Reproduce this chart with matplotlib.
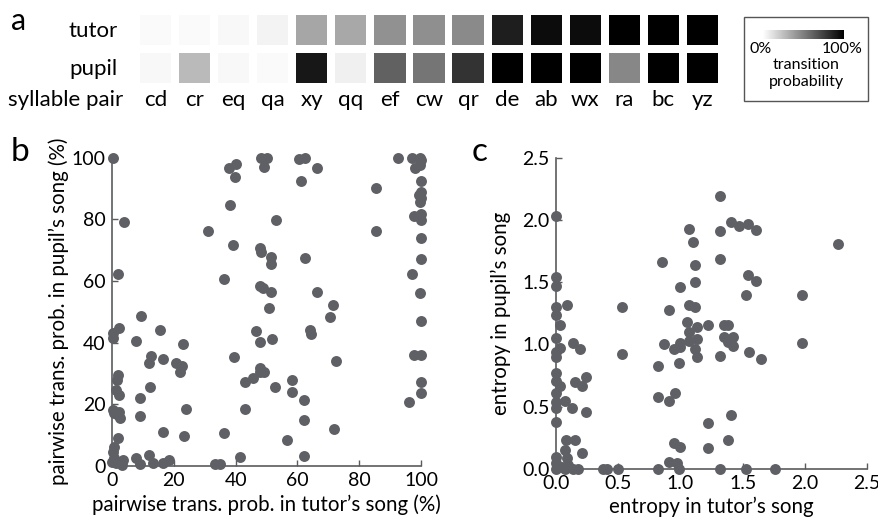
import numpy as np
import matplotlib
matplotlib.use('Agg')
import matplotlib.pyplot as plt
from matplotlib.colors import LinearSegmentedColormap
from matplotlib.patches import Rectangle

plt.rcParams['font.family'] = ['Lato', 'DejaVu Sans']

# ---------------- data ----------------
pairs = ['cd', 'cr', 'eq', 'qa', 'xy', 'qq', 'ef', 'cw', 'qr', 'de', 'ab', 'wx', 'ra', 'bc', 'yz']
tutor_prob = [0.02, 0.02, 0.03, 0.05, 0.35, 0.34, 0.43, 0.44, 0.46, 0.88, 0.95, 0.95, 1.0, 1.0, 1.0]
pupil_prob = [0.03, 0.27, 0.03, 0.02, 0.91, 0.06, 0.62, 0.54, 0.80, 1.0, 1.0, 1.0, 0.47, 1.0, 1.0]
row_labels = ['tutor', 'pupil']

# panel b: pairwise transition probability (%)
tutor_tp = [0.4, 4.0, 1.8, 9.4, 0.2, 0.4, 2.4, 7.8, 15.6, 22.9, 12.7, 12.1, 16.5, 20.6, 22.7, 21.9,
            1.9, 1.6, 1.3, 2.4, 12.3, 9.1, 0.2, 0.8, 2.2, 2.6, 1.8, 8.9, 23.8, 16.5, 23.2,
            1.8, 0.8, 0.2, 0.0, 1.3, 3.5, 3.2, 0.8, 7.8, 8.9, 12.1, 13.2, 16.5, 18.4,
            33.2, 34.8, 41.3, 36.1, 43.1, 56.5, 62.1, 62.1, 62.1, 58.1, 58.1, 52.9, 43.1, 45.7,
            47.8, 49.1, 47.8, 39.4, 71.9, 72.5, 46.5, 47.8, 51.9, 64.1, 64.3, 70.6, 71.6, 50.8,
            47.8, 48.9, 51.3, 66.2, 36.3, 47.8, 48.1, 51.3, 51.3, 62.4, 39.2, 31.2, 53.2, 38.1,
            37.9, 40.0, 39.9, 48.2, 50.0, 49.2, 60.5, 62.4, 61.1, 66.2, 85.5, 85.5,
            92.7, 97.1, 99.8, 100.0, 98.2, 99.8, 100.0, 100.0, 99.5, 100.0, 99.8, 97.6, 100.0, 100.0,
            100.0, 100.0, 97.1, 99.6, 100.0, 97.6, 100.0, 100.0, 100.0, 96.0]
pupil_tp = [100.0, 79.0, 62.4, 48.5, 43.2, 41.3, 44.6, 40.6, 44.0, 39.6, 35.7, 33.3, 34.6, 33.3, 32.5, 30.5,
            29.4, 27.8, 24.6, 22.9, 25.5, 22.1, 18.1, 17.0, 17.5, 15.4, 16.5, 16.1, 18.4, 11.0, 9.5,
            8.9, 6.2, 4.5, 1.3, 0.8, 1.8, 0.2, 2.4, 2.4, 0.4, 3.5, 0.8, 0.8, 1.8,
            0.4, 0.4, 2.8, 10.6, 18.3, 8.5, 3.2, 15.0, 21.3, 24.0, 27.8, 25.6, 27.3, 28.6,
            31.6, 30.3, 30.5, 35.4, 11.9, 34.0, 43.8, 40.3, 41.1, 44.0, 42.7, 48.3, 52.1, 51.3,
            58.2, 57.6, 56.3, 56.4, 60.6, 70.8, 69.3, 67.9, 65.5, 67.3, 71.6, 76.2, 79.7, 84.8,
            96.8, 97.8, 93.6, 100.0, 100.0, 97.1, 99.6, 100.0, 92.5, 96.5, 90.3, 76.2,
            100.0, 100.0, 100.0, 99.2, 96.5, 97.6, 92.5, 88.9, 87.8, 86.8, 85.7, 81.1, 81.7, 79.8,
            73.8, 67.1, 62.3, 56.0, 47.1, 36.1, 35.9, 27.3, 23.5, 20.8]

# panel c: entropy
tutor_entropy = [0.0, 0.0, 0.0, 0.0, 0.0, 0.09, 0.035, 0.0, 0.035, 0.0, 0.0, 0.14, 0.19,
                 0.0, 0.0, 0.035, 0.15, 0.21, 0.24, 0.0, 0.0, 0.0, 0.07, 0.13, 0.24, 0.0,
                 0.08, 0.15, 0.07, 0.21, 0.0, 0.0, 0.09, 0.10, 0.05,
                 0.0, 0.075, 0.14, 0.18, 0.38, 0.41, 0.50, 0.82, 0.99, 1.32, 1.53, 1.76,
                 0.53, 0.53, 0.82, 0.82, 0.91, 0.96, 0.91, 0.97, 0.95, 1.0, 0.85, 0.91, 1.0,
                 1.07, 1.10, 1.12, 1.12, 1.07, 1.12, 1.05, 1.13, 1.07, 1.22, 0.87, 0.95, 1.0, 1.0,
                 1.07, 1.13, 1.12, 1.13, 0.99, 1.32, 1.32, 1.32, 1.41, 1.47, 1.54, 1.61,
                 1.54, 1.61, 1.53, 1.35, 1.38, 1.35, 1.42, 1.38, 1.42, 1.32, 1.55, 1.65,
                 1.98, 1.98, 2.27, 1.41, 1.22, 1.38, 1.22]
pupil_entropy = [2.03, 1.54, 1.47, 1.30, 1.24, 1.32, 1.16, 1.05, 0.97, 0.94, 0.90, 1.01, 0.96,
                 0.77, 0.71, 0.67, 0.70, 0.67, 0.74, 0.61, 0.54, 0.49, 0.55, 0.49, 0.46, 0.38,
                 0.23, 0.23, 0.15, 0.13, 0.10, 0.05, 0.09, 0.03, 0.02,
                 0.0, 0.0, 0.0, 0.0, 0.0, 0.0, 0.0, 0.0, 0.0, 0.0, 0.0, 0.0,
                 1.30, 0.92, 0.83, 0.58, 0.55, 0.61, 0.06, 0.05, 0.21, 0.18, 1.66, 1.28, 1.46,
                 1.93, 1.82, 1.64, 1.50, 1.32, 1.30, 1.18, 1.14, 1.10, 1.16, 1.00, 0.96, 0.98, 1.01,
                 1.03, 1.04, 0.96, 0.90, 0.85, 2.19, 1.91, 1.69, 1.98, 1.95, 1.97, 1.92,
                 1.56, 1.51, 1.40, 1.16, 1.16, 1.06, 1.06, 1.02, 0.99, 0.91, 0.94, 0.88,
                 1.40, 1.01, 1.81, 0.43, 0.37, 0.23, 0.17]

b_ticks = [0, 20, 40, 60, 80, 100]
c_ticks = [0.0, 0.5, 1.0, 1.5, 2.0, 2.5]

# ---------------- style ----------------
W, H = 879, 523
fig = plt.figure(figsize=(W / 100, H / 100), dpi=100)
dot_color = '#5f6065'
spine_color = '#5a5b5d'
cmap = LinearSegmentedColormap.from_list('wb', ['#ffffff', '#000000'])


def ax_px(l, t, r, b):
    return fig.add_axes([l / W, 1 - b / H, (r - l) / W, (b - t) / H])


def fx(x):
    return x / W


def fy(y):
    return 1 - y / H


# ---------------- panel a ----------------
ax_a = ax_px(136, 11, 722, 87)
ax_a.set_xlim(0, len(pairs))
ax_a.set_ylim(2, 0)
ax_a.axis('off')
for r, vals in enumerate([tutor_prob, pupil_prob]):
    for i, v in enumerate(vals):
        ax_a.add_patch(Rectangle((i + 0.1, r + 0.1), 0.8, 0.8, facecolor=cmap(v), edgecolor='none'))
for i, p in enumerate(pairs):
    ax_a.text(i + 0.5, 2.33, p, ha='center', va='center', fontsize=16, clip_on=False)

fig.text(fx(118), fy(31), row_labels[0], ha='right', va='center', fontsize=16)
fig.text(fx(118), fy(69), row_labels[1], ha='right', va='center', fontsize=16)
fig.text(fx(123), fy(100), 'syllable pair', ha='right', va='center', fontsize=16)
fig.text(fx(11), fy(21), 'a', ha='left', va='center', fontsize=22)

# legend box
fig.patches.append(Rectangle((fx(744), fy(101)), (868 - 744) / W, (101 - 17) / H,
                             transform=fig.transFigure, fill=False, edgecolor='#555555', lw=1.0))
ax_g = ax_px(763, 30, 844, 39)
ax_g.imshow(np.linspace(0, 1, 256)[None, :], aspect='auto', cmap=cmap, vmin=0, vmax=1)
ax_g.axis('off')
fig.text(fx(750), fy(49), '0%', ha='left', va='center', fontsize=11.5)
fig.text(fx(863), fy(49), '100%', ha='right', va='center', fontsize=11.5)
fig.text(fx(806), fy(65), 'transition', ha='center', va='center', fontsize=11.5)
fig.text(fx(806), fy(82), 'probability', ha='center', va='center', fontsize=11.5)


def style(ax):
    for s in ['top', 'right']:
        ax.spines[s].set_visible(False)
    for s in ['left', 'bottom']:
        ax.spines[s].set_color(spine_color)
        ax.spines[s].set_linewidth(1.2)
    ax.tick_params(direction='in', length=4, width=1, color=spine_color, labelsize=14, pad=4.5)


# ---------------- panel b ----------------
ax_b = ax_px(112, 157.7, 421, 465.7)
ax_b.scatter(tutor_tp, pupil_tp, s=62, color=dot_color, linewidths=0, clip_on=False, zorder=3)
ax_b.set_xlim(0, 100)
ax_b.set_ylim(0, 100)
ax_b.set_xticks(b_ticks)
ax_b.set_yticks(b_ticks)
style(ax_b)
ax_b.set_xlabel('pairwise trans. prob. in tutor’s song (%)', fontsize=14.8, labelpad=4)
ax_b.set_ylabel('pairwise trans. prob. in pupil’s song (%)', fontsize=14.8, labelpad=2)
fig.text(fx(11), fy(152), 'b', ha='left', va='center', fontsize=24)

# ---------------- panel c ----------------
ax_c = ax_px(556, 157.7, 867, 469)
ax_c.scatter(tutor_entropy, pupil_entropy, s=62, color=dot_color, linewidths=0, clip_on=False, zorder=3)
ax_c.set_xlim(0, 2.5)
ax_c.set_ylim(0, 2.5)
ax_c.set_xticks(c_ticks)
ax_c.set_yticks(c_ticks)
ax_c.set_xticklabels([f'{t:.1f}' for t in c_ticks])
ax_c.set_yticklabels([f'{t:.1f}' for t in c_ticks])
style(ax_c)
ax_c.set_xlabel('entropy in tutor’s song', fontsize=14.8, labelpad=3)
ax_c.set_ylabel('entropy in pupil’s song', fontsize=14.8, labelpad=8)
fig.text(fx(472), fy(152), 'c', ha='left', va='center', fontsize=24)

fig.savefig('out.png', dpi=100)
